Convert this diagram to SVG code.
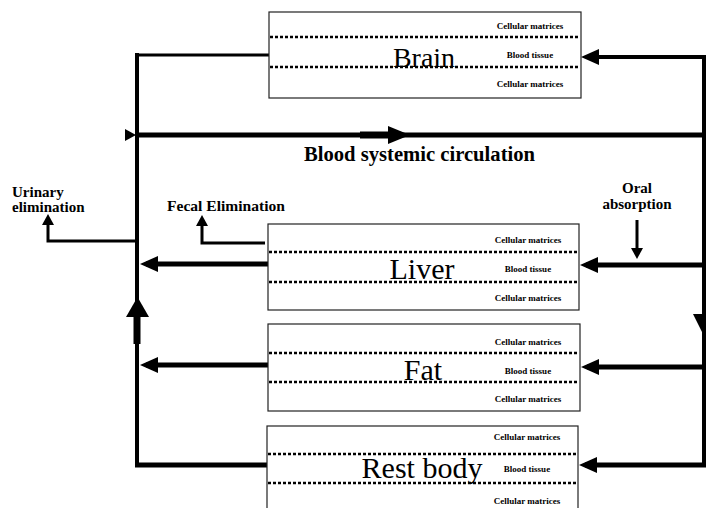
<svg xmlns="http://www.w3.org/2000/svg" width="706" height="508" viewBox="0 0 706 508">
<style>
  .box{fill:#fff;stroke:#222;stroke-width:1.2}
  .dot{stroke:#000;stroke-width:2.5;stroke-dasharray:3 2;fill:none}
  .big{font-family:"Liberation Serif","Times New Roman",serif;font-size:30px;fill:#000;text-anchor:middle}
  .small{font-family:"Liberation Serif","Times New Roman",serif;font-size:9px;font-weight:bold;fill:#000;text-anchor:middle}
  .lbl{font-family:"Liberation Serif","Times New Roman",serif;font-size:15px;font-weight:bold;fill:#000}
  .ttl{font-family:"Liberation Serif","Times New Roman",serif;font-size:20px;font-weight:bold;fill:#000}
  .w5{stroke:#000;stroke-width:5;fill:none}
  .w4{stroke:#000;stroke-width:4;fill:none}
  .w3{stroke:#000;stroke-width:3;fill:none}
  .a{marker-end:url(#ah)}
  .as{marker-end:url(#ahs)}
</style>
<defs>
  <marker id="ah" viewBox="0 0 18 16" refX="12" refY="8" markerWidth="18" markerHeight="16" markerUnits="userSpaceOnUse" orient="auto">
    <path d="M0,0 L18,8 L0,16 z" fill="#000"/>
  </marker>
  <marker id="ahs" viewBox="0 0 11 12" refX="7" refY="6" markerWidth="11" markerHeight="12" markerUnits="userSpaceOnUse" orient="auto">
    <path d="M0,0 L11,6 L0,12 z" fill="#000"/>
  </marker>
</defs>

<g id="connectors">
  <!-- left collecting vein -->
  <line class="w4" x1="137" y1="53" x2="137" y2="467"/>
  <line x1="137" y1="317" x2="137" y2="344" stroke="#000" stroke-width="7"/>
  <polygon points="126,317 149,317 137.5,297" fill="#000"/>
  <!-- brain out -->
  <line class="w3" x1="136" y1="55" x2="269" y2="55"/>
  <!-- systemic circulation line -->
  <line class="w5" x1="137" y1="135" x2="706" y2="135"/>
  <polygon points="125,129 125,141 136,135" fill="#000"/>
  <line x1="360" y1="135" x2="392" y2="135" stroke="#000" stroke-width="7"/>
  <polygon points="388,126 388,144 410,135" fill="#000"/>
  <!-- right artery -->
  <line class="w4" x1="704" y1="55" x2="704" y2="467"/>
  <polygon points="693,314 715,314 704,336" fill="#000"/>
  <!-- inputs -->
  <line class="w4 a" x1="706" y1="57" x2="587" y2="57"/>
  <line class="w5 a" x1="706" y1="265" x2="586" y2="265"/>
  <line class="w5 a" x1="706" y1="367" x2="587" y2="367"/>
  <line class="w5 a" x1="706" y1="465" x2="585" y2="465"/>
  <!-- outputs -->
  <line class="w5 a" x1="268" y1="264" x2="146" y2="264"/>
  <line class="w5 a" x1="268" y1="365" x2="146" y2="365"/>
  <line class="w5" x1="135" y1="465" x2="267" y2="465"/>
  <!-- eliminations -->
  <polyline class="w3 as" points="137,241 48,241 48,218"/>
  <polyline class="w3 as" points="265,243 202,243 202,219"/>
  <line class="w3 as" x1="637" y1="220" x2="637" y2="255"/>
</g>

<g id="brain">
  <rect class="box" x="269" y="12" width="312" height="86"/>
  <line class="dot" x1="270" y1="37" x2="580" y2="37"/>
  <line class="dot" x1="270" y1="67" x2="580" y2="67"/>
  <text class="big" x="424" y="67" style="font-size:28px">Brain</text>
  <text class="small" x="530" y="29">Cellular matrices</text>
  <text class="small" x="530" y="58">Blood tissue</text>
  <text class="small" x="530" y="87">Cellular matrices</text>
</g>

<g id="liver">
  <rect class="box" x="268" y="224" width="311" height="86"/>
  <line class="dot" x1="269" y1="252" x2="578" y2="252"/>
  <line class="dot" x1="269" y1="282" x2="578" y2="282"/>
  <text class="big" x="422" y="279">Liver</text>
  <text class="small" x="528" y="243">Cellular matrices</text>
  <text class="small" x="528" y="272">Blood tissue</text>
  <text class="small" x="528" y="301">Cellular matrices</text>
</g>

<g id="fat">
  <rect class="box" x="268" y="324" width="312" height="87"/>
  <line class="dot" x1="269" y1="353" x2="579" y2="353"/>
  <line class="dot" x1="269" y1="382" x2="579" y2="382"/>
  <text class="big" x="423" y="380">Fat</text>
  <text class="small" x="528" y="345">Cellular matrices</text>
  <text class="small" x="528" y="374">Blood tissue</text>
  <text class="small" x="528" y="402">Cellular matrices</text>
</g>

<g id="restbody">
  <rect class="box" x="267" y="426" width="311" height="90"/>
  <line class="dot" x1="268" y1="454" x2="577" y2="454"/>
  <line class="dot" x1="268" y1="483" x2="577" y2="483"/>
  <text class="big" x="422" y="478">Rest body</text>
  <text class="small" x="527" y="440">Cellular matrices</text>
  <text class="small" x="527" y="472">Blood tissue</text>
  <text class="small" x="527" y="504">Cellular matrices</text>
</g>

<g id="labels">
  <text class="ttl" x="304" y="161" textLength="231" lengthAdjust="spacingAndGlyphs">Blood systemic circulation</text>
  <text class="lbl" x="12" y="197">Urinary</text>
  <text class="lbl" x="12" y="212">elimination</text>
  <text class="lbl" x="167" y="211" textLength="118" lengthAdjust="spacingAndGlyphs">Fecal Elimination</text>
  <text class="lbl" x="637" y="193" text-anchor="middle">Oral</text>
  <text class="lbl" x="637" y="209" text-anchor="middle">absorption</text>
</g>
</svg>
